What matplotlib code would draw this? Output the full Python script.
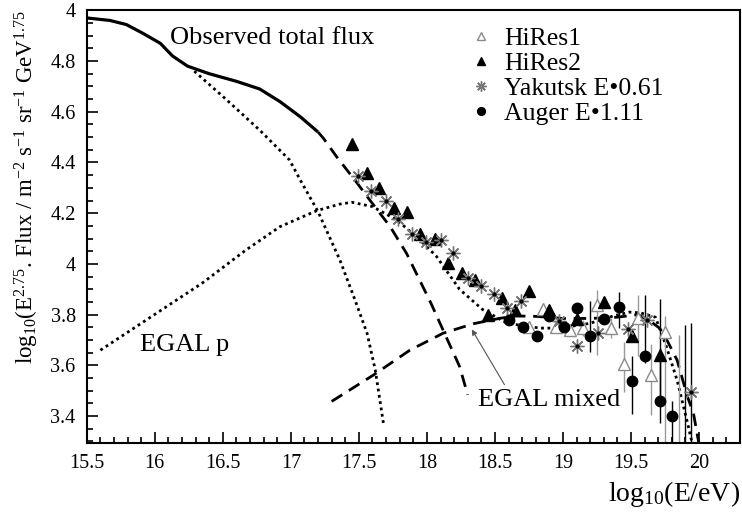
import matplotlib
matplotlib.use('Agg')
import matplotlib.pyplot as plt
from matplotlib.ticker import MultipleLocator, FixedLocator

plt.rcParams['font.family'] = ['Liberation Serif', 'DejaVu Serif']
plt.rcParams['mathtext.fontset'] = 'custom'
plt.rcParams['mathtext.rm'] = 'Liberation Serif'
plt.rcParams['mathtext.it'] = 'Liberation Serif:italic'

# observed total flux (solid)
tot_x = [15.5, 15.67, 15.79, 15.91, 16.04, 16.13, 16.24, 16.40, 16.60, 16.77, 16.92, 17.07, 17.2]
tot_y = [4.97, 4.96, 4.944, 4.91, 4.87, 4.82, 4.78, 4.75, 4.72, 4.69, 4.64, 4.58, 4.52]

# galactic part, proton model (dotted)
galp_x = [16.29, 16.53, 16.77, 16.99, 17.07, 17.2, 17.36, 17.47, 17.56, 17.62, 17.68]
galp_y = [4.76, 4.646, 4.528, 4.41, 4.33, 4.206, 4.016, 3.86, 3.727, 3.583, 3.373]

# extragalactic protons (dotted)
egp_x = [15.60, 15.94, 16.35, 16.67, 16.92, 17.19, 17.36, 17.45, 17.60, 17.78, 17.95, 18.07,
         18.24, 18.41, 18.59, 18.83, 18.98, 19.2, 19.37, 19.49, 19.57, 19.68, 19.76, 19.84,
         19.91, 19.96]
egp_y = [3.66, 3.78, 3.925, 4.055, 4.147, 4.21, 4.236, 4.243, 4.226, 4.173, 4.094, 4.03,
         3.90, 3.82, 3.766, 3.747, 3.747, 3.766, 3.795, 3.81, 3.807, 3.79, 3.675, 3.54,
         3.386, 3.27]

# galactic part, mixed model (dashed)
galm_x = [17.2, 17.24, 17.34, 17.48, 17.58, 17.73, 17.85, 18.03, 18.14, 18.24, 18.30]
galm_y = [4.52, 4.495, 4.42, 4.324, 4.252, 4.147, 4.042, 3.845, 3.714, 3.596, 3.484]

# extragalactic mixed composition (dashed)
egm_x = [17.30, 17.61, 17.875, 18.12, 18.34, 18.54, 18.66, 18.81, 19.0, 19.2, 19.4, 19.55,
         19.64, 19.71, 19.77, 19.84, 19.88, 19.92, 19.96, 20.0]
egm_y = [3.458, 3.563, 3.66, 3.727, 3.764, 3.786, 3.795, 3.793, 3.785, 3.785, 3.79, 3.80,
         3.775, 3.747, 3.694, 3.62, 3.543, 3.47, 3.41, 3.29]

# HiRes1
hr1_x = [18.75, 18.85, 18.95, 19.05, 19.15, 19.25, 19.35, 19.45, 19.55, 19.65, 19.75, 19.85]
hr1_y = [3.753, 3.822, 3.75, 3.74, 3.747, 3.839, 3.747, 3.606, 3.786, 3.563, 3.733, 3.1]
hr1_lo = [0, 0, 0, 0, 0.03, 0.2, 0.04, 0.11, 0.15, 0.16, 0.5, 0]
hr1_hi = [0, 0, 0, 0, 0.03, 0.06, 0.04, 0.085, 0.09, 0.12, 0.06, 0.62]

# HiRes2
hr2_x = [17.45, 17.56, 17.65, 17.76, 17.855, 17.95, 18.06, 18.155, 18.255, 18.35, 18.45,
         18.55, 18.65, 18.75, 18.90, 19.10, 19.30, 19.51, 19.71, 19.90]
hr2_y = [4.472, 4.36, 4.30, 4.222, 4.204, 4.118, 4.097, 4.003, 3.963, 3.937, 3.80,
         3.865, 3.82, 3.894, 3.82, 3.782, 3.848, 3.714, 3.64, 3.1]
hr2_lo = [0] * 18 + [0.2, 0]
hr2_hi = [0] * 18 + [0.22, 0.66]

# Yakutsk, energy scaled by 0.61
yak_x = [17.49, 17.59, 17.70, 17.79, 17.89, 17.99, 18.10, 18.19, 18.30, 18.395, 18.49,
         18.59, 18.69, 18.97, 19.10, 19.26, 19.475, 19.615, 19.945]
yak_y = [4.348, 4.287, 4.249, 4.177, 4.118, 4.087, 4.094, 4.042, 3.944, 3.913, 3.88,
         3.828, 3.854, 3.776, 3.677, 3.727, 3.744, 3.78, 3.497]
yak_lo = [0] * 18 + [0.25]
yak_hi = [0] * 18 + [0.27]

# Auger, energy scaled by 1.11
aug_x = [18.60, 18.71, 18.81, 18.90, 19.01, 19.10, 19.20, 19.30, 19.41, 19.505, 19.60,
         19.71, 19.80]
aug_y = [3.777, 3.751, 3.717, 3.795, 3.753, 3.828, 3.714, 3.782, 3.829, 3.537, 3.638,
         3.458, 3.399]
aug_lo = [0, 0, 0, 0, 0, 0, 0.06, 0, 0.08, 0.13, 0.03, 0.085, 0.2]
aug_hi = [0, 0, 0, 0, 0, 0, 0.14, 0, 0.06, 0.1, 0.24, 0.21, 0.06]

fig = plt.figure(figsize=(7.42, 5.16), dpi=100)
ax = fig.add_axes([0.117, 0.1415, 0.88, 0.8385])

dot = (0, (1, 1.3))
dash = (0, (4.5, 2.8))

ax.plot(tot_x, tot_y, color='black', lw=2.3, solid_capstyle='butt')
ax.plot(galp_x, galp_y, color='black', lw=2, ls=dot)
ax.plot(egp_x, egp_y, color='black', lw=2, ls=dot)
ax.plot(galm_x, galm_y, color='black', lw=2, ls=dash)
ax.plot(egm_x, egm_y, color='black', lw=2, ls=dash)

# error bars first, markers on top
ax.errorbar(hr1_x, hr1_y, yerr=[hr1_lo, hr1_hi], fmt='none', ecolor='#9a9a9a',
            elinewidth=1, capsize=0, zorder=2)
ax.errorbar(hr2_x, hr2_y, yerr=[hr2_lo, hr2_hi], fmt='none', ecolor='black',
            elinewidth=1, capsize=0, zorder=2)
ax.errorbar(yak_x, yak_y, yerr=[yak_lo, yak_hi], fmt='none', ecolor='black',
            elinewidth=1, capsize=0, zorder=2)
ax.errorbar(aug_x, aug_y, yerr=[aug_lo, aug_hi], fmt='none', ecolor='black',
            elinewidth=1, capsize=0, zorder=2)

ax.plot(hr1_x, hr1_y, ls='none', marker='^', ms=8, mfc='white', mec='#8a8a8a',
        mew=1, label='HiRes1', zorder=3)
ax.plot(hr2_x, hr2_y, ls='none', marker='^', ms=8, color='black',
        label='HiRes2', zorder=3)
ax.plot(yak_x, yak_y, ls='none', marker=(8, 2, 0), ms=10, mec='#777777', mew=1,
        label='Yakutsk E\u20220.61', zorder=3)
ax.plot(yak_x, yak_y, ls='none', marker='o', ms=2, color='black', zorder=4)
ax.plot(aug_x, aug_y, ls='none', marker='o', ms=7.5, color='black',
        label='Auger E\u20221.11', zorder=3)

ax.text(16.11, 4.89, 'Observed total flux', fontsize=19, va='center')
ax.text(15.89, 3.68, 'EGAL p', fontsize=19, va='center')
ax.text(18.375, 3.465, 'EGAL mixed', fontsize=19, va='center')
ax.annotate('', xy=(18.33, 3.742), xytext=(18.57, 3.524),
            arrowprops=dict(arrowstyle='-|>', color='#555555', lw=0.8,
                            mutation_scale=8, shrinkA=0, shrinkB=0))

ax.set_xlim(15.5, 20.3)
ax.set_ylim(3.294, 5.0)

xt = [15.5, 16, 16.5, 17, 17.5, 18, 18.5, 19, 19.5, 20]
xt_labels = ['15.5', '16', '16.5', '17', '17.5', '18', '18.5', '19', '19.5', '20']
yt = [3.4, 3.6, 3.8, 4.0, 4.2, 4.4, 4.6, 4.8, 5.0]
yt_labels = ['3.4', '3.6', '3.8', '4', '4.2', '4.4', '4.6', '4.8', '4']
ax.xaxis.set_major_locator(FixedLocator(xt))
ax.set_xticklabels(xt_labels)
ax.yaxis.set_major_locator(FixedLocator(yt))
ax.set_yticklabels(yt_labels)
ax.xaxis.set_minor_locator(MultipleLocator(0.1))
ax.yaxis.set_minor_locator(MultipleLocator(0.05))
ax.tick_params(which='both', direction='in', top=False, right=False,
               labelsize=14.5, width=1.2)
ax.tick_params(which='major', length=8, pad=8)
ax.tick_params(which='minor', length=4)
for s in ax.spines.values():
    s.set_linewidth(1.5)

ax.set_xlabel('log$_{10}$(E/eV)', fontsize=20, loc='right', labelpad=4)
ax.set_ylabel('log$_{10}$(E$^{2.75}$. Flux / m$^{-2}$ s$^{-1}$ sr$^{-1}$ GeV$^{1.75}$',
              fontsize=16.5, loc='top', labelpad=7)

ax.legend(loc='upper left', bbox_to_anchor=(0.562, 1.003), frameon=False,
          fontsize=18.5, handlelength=0.7, handletextpad=0.55, labelspacing=0.08,
          borderpad=0.2, markerscale=0.75)

fig.savefig('out.png', dpi=100)
